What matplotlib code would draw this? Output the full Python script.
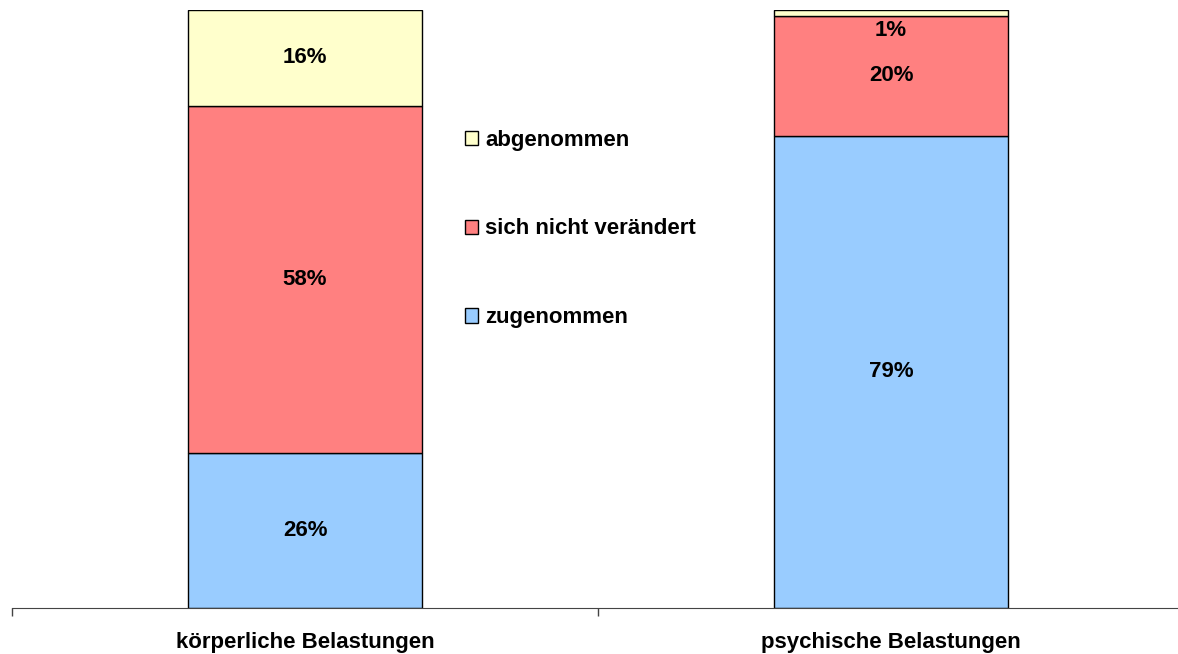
import matplotlib
matplotlib.use("Agg")
from matplotlib import pyplot as plt
from matplotlib.patches import Patch

categories = ["körperliche Belastungen", "psychische Belastungen"]
series_names = ["zugenommen", "sich nicht verändert", "abgenommen"]
zugenommen = [26, 79]
nicht_veraendert = [58, 20]
abgenommen = [16, 1]
colors = ["#99CCFF", "#FF8080", "#FFFFCC"]

plt.rcParams["font.family"] = ["Liberation Sans", "DejaVu Sans"]
plt.rcParams["font.weight"] = "bold"

fig = plt.figure(figsize=(11.78, 6.54), dpi=100)
ax = fig.add_axes([12 / 1178, 1 - 608 / 654, 1172 / 1178, 598 / 654])

x = list(range(len(categories)))
bottom = [0, 0]
for name, vals, col in zip(series_names, [zugenommen, nicht_veraendert, abgenommen], colors):
    ax.bar(x, vals, width=0.4, bottom=bottom, color=col, edgecolor="black",
           linewidth=1, label=name)
    for i, v in enumerate(vals):
        yc = bottom[i] + v / 2
        if v < 5:
            yc = bottom[i] - 2.4  # small segment: label sits just below
        ax.text(x[i], yc, f"{v}%", ha="center", va="center",
                fontsize=16, fontweight="bold")
    bottom = [b + v for b, v in zip(bottom, vals)]

ax.set_xlim(-0.5, 1.5)
ax.set_ylim(0, 100)
for s in ["top", "right", "left"]:
    ax.spines[s].set_visible(False)
ax.spines["bottom"].set_color("#444444")
ax.set_yticks([])
ax.set_xticks(x)
ax.set_xticklabels(categories, fontsize=16, fontweight="bold")
ax.tick_params(axis="x", which="major", length=0, pad=17)
ax.set_xticks([-0.5, 0.5, 1.5], minor=True)
ax.tick_params(axis="x", which="minor", length=6, width=1, color="#444444",
               direction="out")

handles = [Patch(facecolor=c, edgecolor="black", linewidth=1) for c in colors]
leg = ax.legend(handles[::-1], series_names[::-1], loc="center left",
                bbox_to_anchor=(454 / 1178, 1 - 229 / 654),
                bbox_transform=fig.transFigure, frameon=False,
                prop={"size": 16, "weight": "bold"},
                handlelength=0.6, handleheight=0.6, handletextpad=0.3,
                labelspacing=3.05, borderpad=0)

fig.savefig("out.png", dpi=100)
